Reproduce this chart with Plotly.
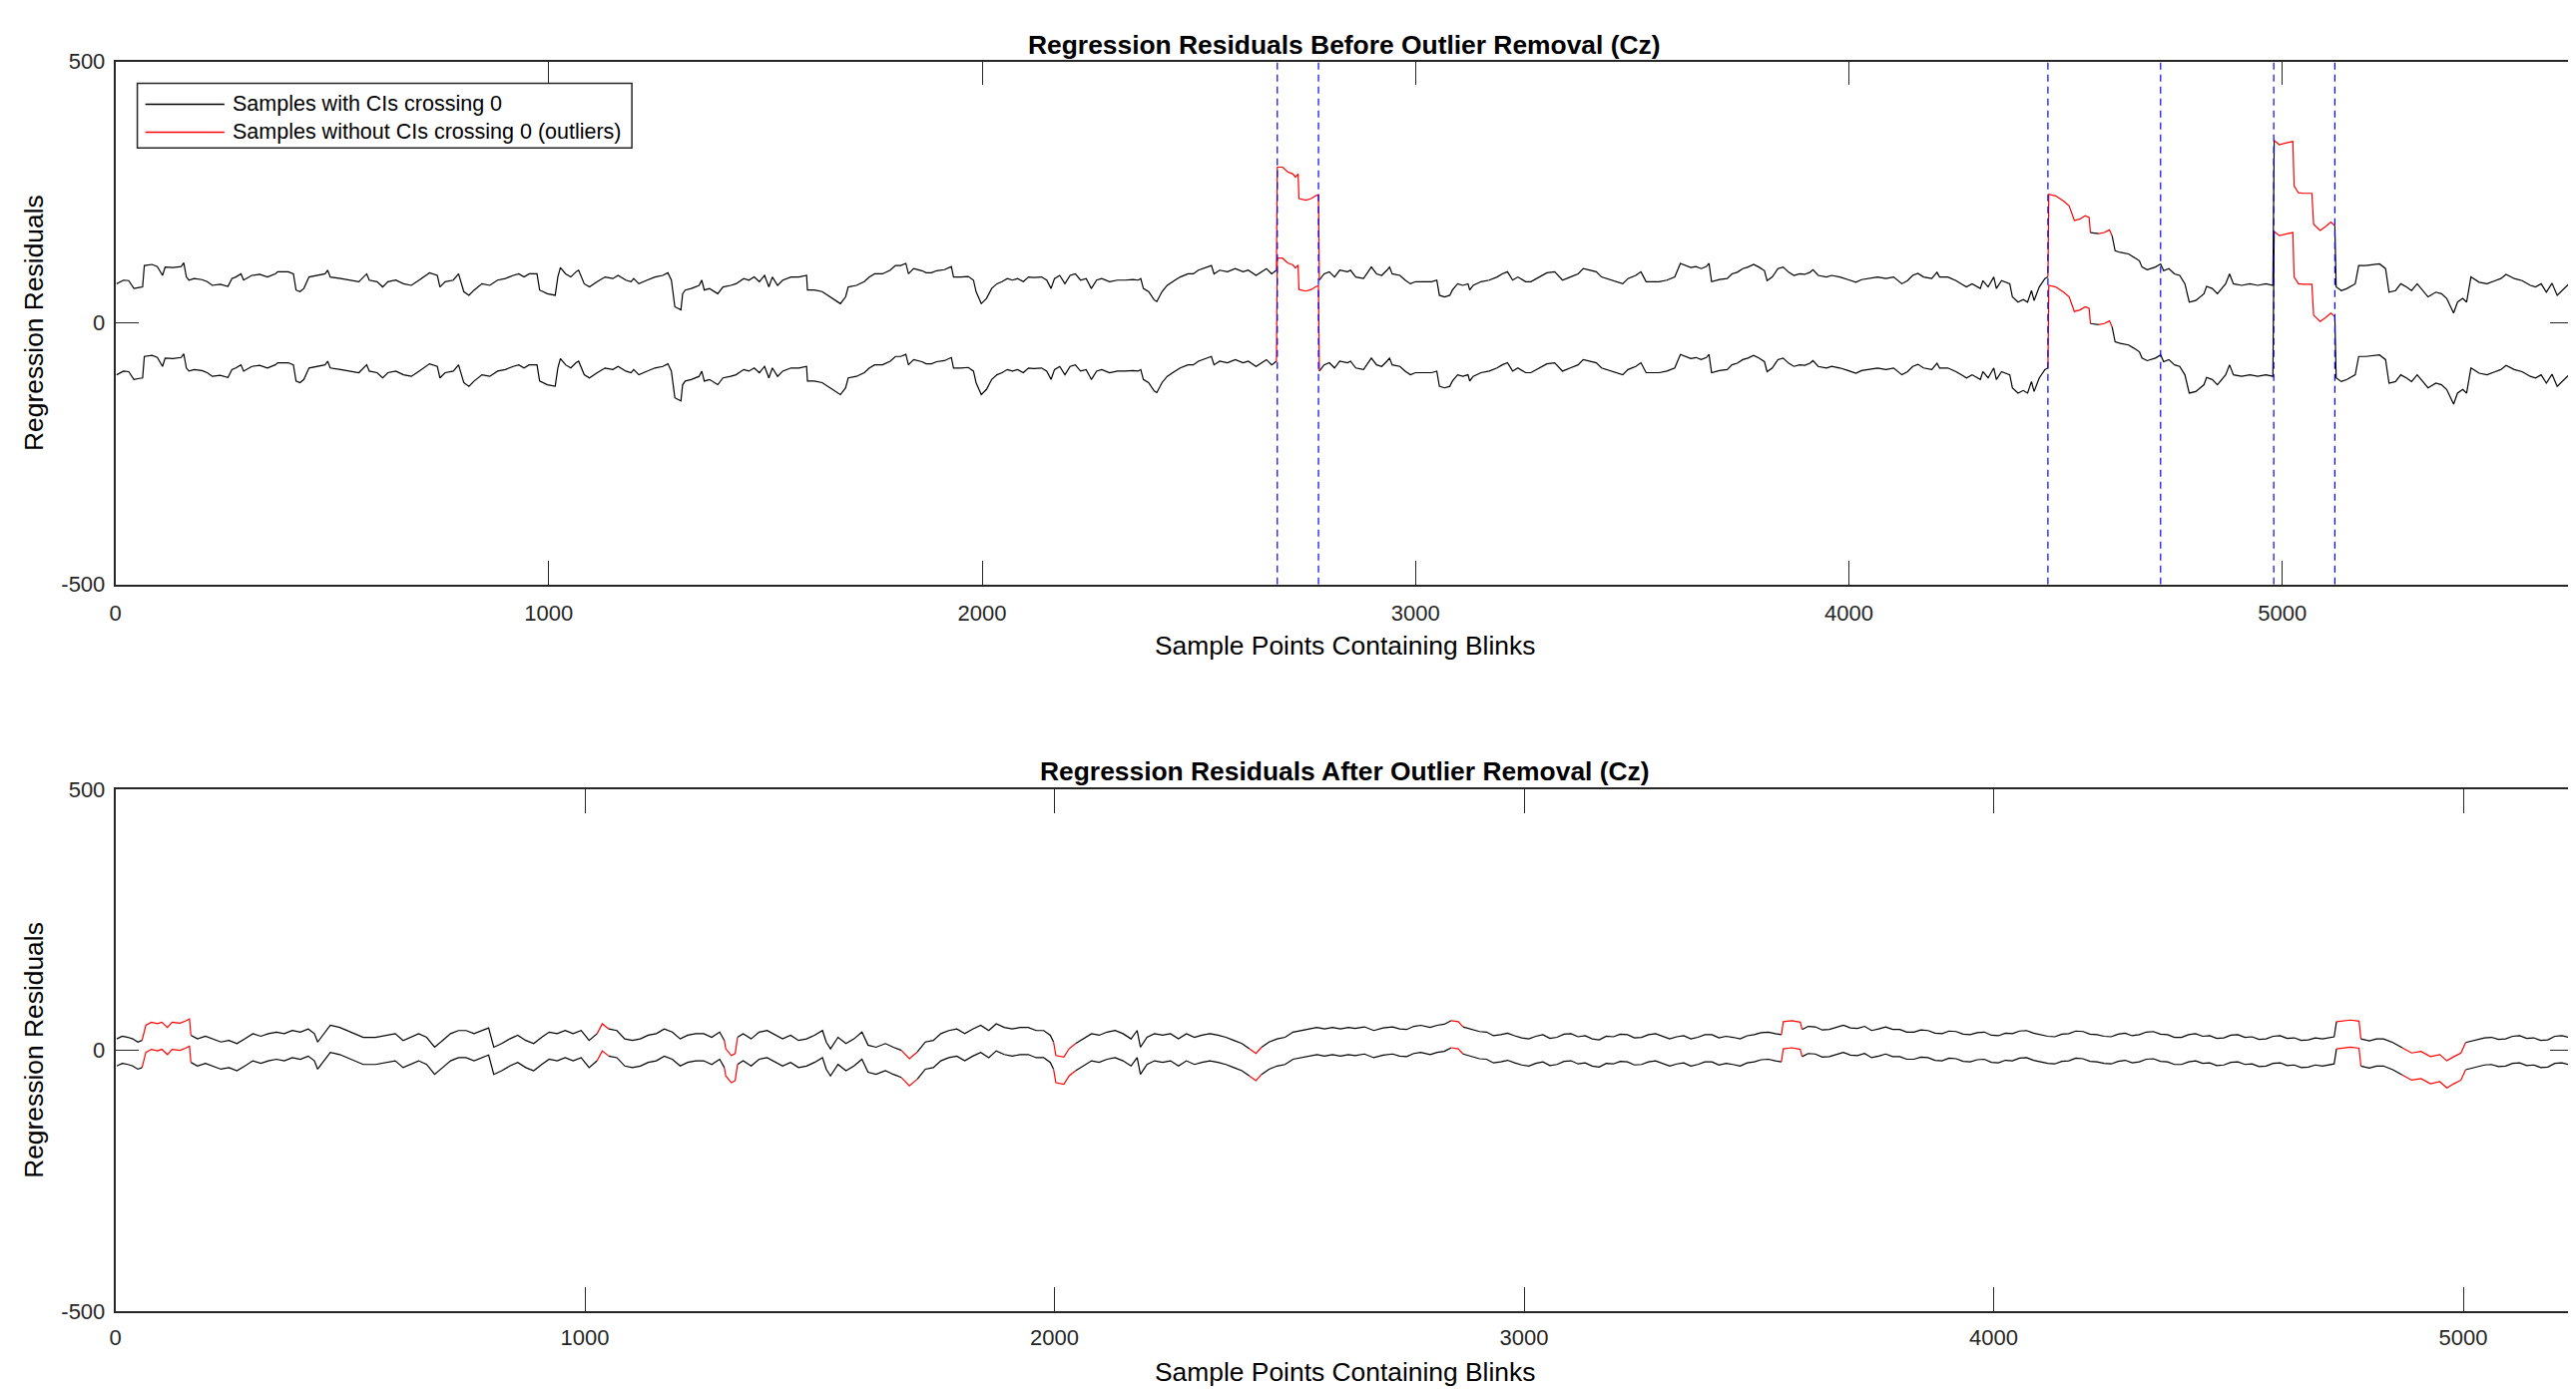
import plotly.graph_objects as go

# ---------------- DATA ----------------
# Top panel: upper confidence bound of regression residuals (sample index, value)
top_x = [3, 19, 31, 43, 55, 63, 67, 85, 97, 109, 115, 133, 152, 158, 164, 170, 182, 200, 212, 224, 242, 260, 269, 278, 290, 296, 315, 333, 351, 369, 375, 399, 411, 417, 426, 435, 447, 466, 484, 490, 496, 520, 544, 562, 580, 586, 604, 617, 629, 647, 665, 683, 701, 711, 725, 743, 749, 761, 780, 792, 798, 804, 816, 828, 846, 864, 882, 900, 918, 931, 943, 955, 973, 979, 997, 1015, 1021, 1027, 1039, 1051, 1063, 1069, 1082, 1094, 1112, 1130, 1148, 1160, 1178, 1190, 1196, 1208, 1227, 1245, 1263, 1275, 1283, 1291, 1305, 1309, 1315, 1329, 1347, 1353, 1359, 1371, 1390, 1402, 1420, 1432, 1450, 1462, 1474, 1486, 1498, 1508, 1516, 1528, 1540, 1559, 1577, 1595, 1597, 1613, 1631, 1649, 1673, 1685, 1691, 1710, 1728, 1740, 1752, 1770, 1788, 1800, 1812, 1824, 1830, 1842, 1861,
         1871, 1883, 1895, 1913, 1929, 1934, 1950, 1968, 1980, 1986, 1998, 2010, 2022, 2034, 2046, 2058, 2070, 2082, 2095, 2107, 2119, 2137, 2149, 2159, 2167, 2179, 2191, 2203, 2215, 2227, 2240, 2252, 2264, 2276, 2294, 2312, 2330, 2348, 2360, 2366, 2372, 2384, 2397, 2403, 2415, 2427, 2445, 2457, 2475, 2487, 2499, 2517, 2529, 2535, 2548, 2566, 2584, 2602, 2614, 2632, 2644, 2656, 2668, 2679, 2681, 2693, 2705, 2717, 2723, 2729, 2731, 2747, 2759, 2771, 2776, 2778, 2789, 2801, 2813, 2825, 2843, 2850, 2862, 2880, 2892, 2898, 2910, 2922, 2934, 2940, 2946, 2964, 2976, 2988, 3000, 3019, 3037, 3049, 3055, 3067, 3079, 3085, 3097, 3109, 3121, 3125, 3133, 3151, 3170, 3188, 3200, 3212, 3224, 3236, 3254, 3266, 3278, 3290, 3303, 3321, 3333, 3339, 3357, 3375, 3387, 3405, 3417, 3429, 3441, 3453, 3466, 3478, 3490, 3508, 3520, 3532, 3544, 3562, 3580, 3598, 3611, 3623, 3635, 3647, 3659, 3671, 3677, 3683, 3701, 3719,
         3730, 3742, 3755, 3767, 3780, 3792, 3805, 3811, 3823, 3836, 3848, 3861, 3873, 3886, 3898, 3910, 3917, 3929, 3948, 3960, 3979, 3998, 4016, 4029, 4047, 4066, 4085, 4103, 4122, 4135, 4147, 4159, 4172, 4191, 4203, 4209, 4228, 4247, 4259, 4271, 4284, 4303, 4309, 4321, 4334, 4340, 4352, 4371, 4377, 4390, 4402, 4412, 4421, 4427, 4439, 4452, 4459, 4461, 4477, 4495, 4508, 4520, 4533, 4545, 4554, 4557, 4576, 4589, 4601, 4607, 4614, 4626, 4645, 4657, 4670, 4676, 4688, 4707, 4719, 4726, 4738, 4751, 4763, 4775, 4785, 4800, 4819, 4825, 4838, 4850, 4869, 4878, 4887, 4906, 4925, 4943, 4962, 4978, 4981, 4993, 5012, 5024, 5027, 5037, 5049, 5068, 5072, 5087, 5099, 5112, 5121, 5124, 5136, 5149, 5168, 5176, 5192, 5211, 5224, 5238, 5246, 5261, 5273, 5286, 5298, 5311, 5323, 5336, 5354, 5367, 5379, 5395, 5404, 5416, 5425, 5435, 5454, 5472, 5491, 5504, 5516, 5535, 5553, 5572, 5584, 5597, 5609, 5622, 5634, 5653, 5665, 5673]
top_upper = [75, 82, 81, 66, 68, 69, 110, 112, 108, 91, 107, 106, 108, 115, 88, 82, 85, 83, 79, 72, 74, 70, 85, 88, 94, 82, 91, 93, 88, 94, 98, 98, 94, 63, 60, 66, 88, 91, 94, 101, 88, 85, 82, 79, 94, 82, 79, 69, 79, 82, 75, 72, 82, 88, 96, 91, 69, 79, 82, 94, 75, 60, 53, 63, 75, 72, 82, 85, 91, 94, 88, 94, 94, 63, 56, 53, 88, 106, 94, 88, 98, 101, 75, 69, 79, 88, 85, 91, 82, 79, 85, 75, 82, 88, 91, 96, 82, 31, 25, 56, 63, 66, 72, 82, 63, 66, 56, 69, 72, 75, 85, 82, 88, 79, 91, 69, 88, 72, 82, 88, 88, 91, 63, 63, 60, 50, 37, 50, 69, 72, 79, 88, 94, 94, 101, 110, 110, 114, 94, 104, 100,
             96, 96, 100, 102, 108, 88, 88, 89, 82, 60, 37, 47, 66, 75, 79, 85, 82, 85, 79, 88, 87, 88, 82, 66, 85, 91, 75, 91, 94, 82, 85, 66, 82, 85, 79, 82, 82, 83, 82, 85, 66, 60, 44, 41, 60, 72, 82, 88, 94, 94, 101, 107, 110, 94, 101, 98, 104, 98, 101, 91, 98, 104, 94, 101, 298, 298, 289, 285, 279, 285, 238, 235, 238, 244, 245, 82, 94, 98, 88, 101, 98, 101, 88, 85, 101, 107, 94, 91, 101, 107, 94, 91, 82, 75, 79, 79, 79, 82, 53, 50, 53, 63, 75, 72, 75, 63, 72, 79, 82, 88, 94, 98, 82, 88, 79, 79, 85, 91, 96, 98, 88, 82, 88, 94, 104, 101, 98, 88, 85, 82, 79, 75, 85, 91, 98, 79, 79, 79, 82, 88, 114, 110, 106, 108, 104, 108, 114, 79, 83, 85,
             94, 97, 104, 107, 112, 107, 100, 81, 88, 104, 107, 97, 91, 94, 93, 97, 102, 91, 88, 91, 88, 83, 78, 83, 85, 88, 85, 88, 75, 81, 91, 95, 88, 85, 97, 88, 88, 81, 75, 69, 75, 66, 81, 69, 88, 66, 81, 75, 50, 40, 45, 40, 62, 43, 69, 85, 88, 246, 243, 233, 224, 196, 199, 205, 202, 173, 171, 173, 178, 167, 138, 135, 132, 126, 119, 107, 102, 107, 113, 100, 104, 94, 91, 75, 40, 43, 56, 70, 66, 56, 75, 94, 75, 72, 75, 72, 75, 72, 349, 341, 345, 347, 262, 249, 248, 248, 189, 177, 184, 193, 186, 69, 62, 66, 75, 110, 110, 112, 113, 104, 59, 62, 75, 69, 62, 75, 62, 50, 59, 56, 47, 19, 40, 47, 40, 88, 78, 75, 81, 85, 93, 85, 81, 72, 69, 75, 59, 76, 53, 69, 78, 69]
top_ci_span = 174          # upper minus lower confidence bound
top_outliers = [(2680, 2777), (4460, 4556), (4582, 4604), (4980, 5122)]
top_blink_bounds = [2681, 2776, 4459, 4719, 4980, 5121]

# Bottom panel
bot_x = [3, 15, 27, 37, 48, 57, 65, 77, 90, 99, 111, 121, 138, 149, 158, 161, 175, 192, 208, 225, 242, 259, 276, 293, 310, 326, 343, 360, 377, 394, 411, 424, 431, 444, 458, 478, 495, 512, 528, 554, 579, 596, 613, 630, 646, 663, 680, 697, 714, 731, 747, 764, 781, 795, 806, 823, 840, 857, 874, 891, 908, 924, 941, 958, 975, 992, 1009, 1026, 1037, 1051, 1068, 1085, 1101, 1118, 1135, 1152, 1169, 1186, 1203, 1219, 1236, 1253, 1270, 1287, 1297, 1300, 1312, 1320, 1325, 1337, 1354, 1371, 1388, 1405, 1421, 1438, 1455, 1472, 1489, 1506, 1514, 1523, 1539, 1556, 1573, 1590, 1603, 1620, 1640, 1657, 1674, 1691, 1708, 1725, 1742, 1758, 1775, 1792, 1809, 1826, 1843, 1860, 1876, 1893, 1910, 1927, 1944, 1961, 1977, 1991, 1998, 2003, 2020, 2031, 2045, 2062, 2079, 2095, 2112, 2129, 2146, 2163, 2176, 2183, 2197, 2213, 2230, 2247, 2264, 2281, 2298, 2314, 2331, 2348, 2365, 2382, 2399, 2415, 2429, 2441, 2457, 2474, 2491, 2508, 2525, 2542, 2559, 2575, 2592, 2609, 2626,
         2640, 2660, 2680, 2700, 2720, 2735, 2750, 2765, 2780, 2800, 2815, 2830, 2845, 2860, 2870, 2890, 2905, 2920, 2935, 2950, 2965, 2980, 2995, 3010, 3025, 3040, 3055, 3070, 3085, 3100, 3115, 3130, 3145, 3160, 3175, 3190, 3205, 3220, 3235, 3250, 3265, 3280, 3295, 3310, 3325, 3340, 3355, 3370, 3385, 3400, 3415, 3430, 3445, 3460, 3475, 3490, 3505, 3520, 3535, 3548, 3552, 3570, 3588, 3592, 3605, 3620, 3635, 3650, 3665, 3680, 3695, 3710, 3725, 3740, 3755, 3770, 3785, 3800, 3815, 3830, 3845, 3860, 3875, 3890, 3905, 3920, 3935, 3950, 3965, 3980, 3995, 4010, 4025, 4040, 4055, 4070, 4085, 4100, 4115, 4130, 4145, 4160, 4175, 4190, 4205, 4220, 4235, 4250, 4265, 4280, 4295, 4310, 4325, 4340, 4355, 4370, 4385, 4400, 4415, 4430, 4445, 4460, 4475, 4490, 4505, 4520, 4535, 4550, 4565, 4580, 4595, 4610, 4625, 4640, 4655, 4670, 4685, 4700, 4715, 4725, 4730, 4745, 4760, 4778, 4782, 4800, 4815, 4830, 4850, 4870, 4890, 4910, 4930, 4950, 4965, 4980, 4995, 5005, 5020, 5030, 5045, 5060, 5075, 5090, 5105, 5120, 5135, 5150, 5165, 5180, 5195, 5210, 5225, 5236]
bot_upper = [22, 27, 25, 22, 16, 19, 48, 54, 51, 54, 44, 54, 52, 56, 60, 29, 22, 27, 22, 16, 19, 13, 22, 32, 27, 32, 35, 32, 38, 35, 41, 32, 16, 32, 48, 44, 38, 32, 25, 25, 29, 32, 19, 25, 32, 25, 6, 19, 32, 38, 38, 32, 38, 43, 6, 13, 22, 29, 19, 13, 25, 35, 32, 38, 32, 38, 19, 32, 51, 41, 38, 22, 19, 22, 29, 32, 41, 35, 22, 29, 32, 32, 25, 35, 19, 3, -10, -6, 25, 32, 22, 35, 38, 29, 22, 29, 19, 22, 29, 38, 16, 3, 25, 13, 22, 35, 10, 6, 13, 6, 0, -16, -3, 16, 19, 32, 38, 41, 32, 41, 48, 38, 51, 44, 41, 44, 44, 38, 38, 29, 16, -10, -13, 3, 13, 22, 32, 29, 35, 38, 32, 22, 38, 6, 25, 32, 29, 32, 22, 32, 25, 29, 32, 29, 25, 19, 13, 3, -6, 6, 16, 22, 25, 35, 38, 41, 44, 41, 44, 41, 44,
             42, 45, 38, 43, 45, 41, 40, 46, 48, 44, 48, 50, 57, 55, 45, 40, 36, 35, 28, 30, 33, 28, 24, 22, 27, 30, 23, 25, 31, 32, 26, 28, 22, 20, 27, 26, 31, 30, 24, 25, 30, 32, 27, 22, 26, 28, 22, 25, 30, 30, 24, 27, 25, 22, 28, 30, 34, 35, 32, 30, 55, 57, 54, 40, 46, 45, 39, 40, 44, 48, 43, 42, 46, 38, 41, 45, 40, 40, 35, 35, 39, 38, 33, 32, 37, 36, 31, 30, 34, 35, 29, 28, 33, 32, 37, 38, 33, 30, 27, 26, 31, 32, 37, 36, 31, 30, 27, 26, 31, 33, 28, 30, 35, 36, 31, 30, 25, 25, 30, 32, 27, 28, 23, 24, 29, 30, 25, 26, 21, 22, 27, 28, 23, 24, 19, 20, 24, 22, 25, 26, 55, 57, 58, 56, 22, 18, 22, 22, 15, 5, -5, -2, -12, -8, -20, -12, -5, 15, 18, 20, 24, 25, 21, 22, 27, 28, 23, 24, 19, 20, 27, 28, 25, 25]
bot_ci_span = 52
bot_outliers = [(58, 160), (1030, 1046), (1298, 1323), (1666, 1716), (1995, 2038), (2408, 2448),
                (2838, 2866), (3550, 3590), (4728, 4780), (4862, 5000)]

x_ticks = [0, 1000, 2000, 3000, 4000, 5000]
x_tick_labels = ["0", "1000", "2000", "3000", "4000", "5000"]
y_ticks = [-500, 0, 500]
y_tick_labels = ["-500", "0", "500"]
top_xmax = 5673
bot_xmax = 5236

TITLE_TOP = "Regression Residuals Before Outlier Removal (Cz)"
TITLE_BOT = "Regression Residuals After Outlier Removal (Cz)"
XLABEL = "Sample Points Containing Blinks"
YLABEL = "Regression Residuals"
LEG_BLACK = "Samples with CIs crossing 0"
LEG_RED = "Samples without CIs crossing 0 (outliers)"


# ---------------- BUILD ----------------
def split_runs(xs, ys, intervals):
    """Return (black_x, black_y, red_x, red_y) with None separators."""
    out = {"k": ([], []), "r": ([], [])}
    n = len(xs)
    cols = []
    for i in range(n - 1):
        mid = (xs[i] + xs[i + 1]) / 2.0
        cols.append("r" if any(a <= mid <= b for a, b in intervals) else "k")
    i = 0
    while i < n - 1:
        c = cols[i]
        j = i
        while j + 1 < n - 1 and cols[j + 1] == c:
            j += 1
        bx, by = out[c]
        bx.extend(xs[i:j + 2]); by.extend(ys[i:j + 2])
        bx.append(None); by.append(None)
        i = j + 1
    return out["k"][0], out["k"][1], out["r"][0], out["r"][1]


def both_bounds(xs, upper, span, intervals):
    lower = [u - span for u in upper]
    kx1, ky1, rx1, ry1 = split_runs(xs, upper, intervals)
    kx2, ky2, rx2, ry2 = split_runs(xs, lower, intervals)
    return kx1 + kx2, ky1 + ky2, rx1 + rx2, ry1 + ry2


FONT = "Liberation Sans, Arial, Helvetica, sans-serif"
AXC = "#262626"
LW = 1.2
W, H = 2581, 1396

# map target screen pixel -> paper fraction (compensates the page offset seen in rendering)
OX, SX = 13.8, 0.9946
OY, SY = 18.2, 0.9856


def fx(px):
    return ((px - OX) / SX) / W


def fy(py):
    return 1 - ((py - OY) / SY) / H


L, R = 115, 2571
TOP = (60, 586)
BOT = (792, 1317)

fig = go.Figure()

kx, ky, rx, ry = both_bounds(top_x, top_upper, top_ci_span, top_outliers)
fig.add_trace(go.Scatter(x=kx, y=ky, mode="lines", line=dict(color="black", width=LW),
                         name=LEG_BLACK, xaxis="x", yaxis="y", showlegend=False))
fig.add_trace(go.Scatter(x=rx, y=ry, mode="lines", line=dict(color="#ff0000", width=LW),
                         name=LEG_RED, xaxis="x", yaxis="y", showlegend=False))
bx, by = [], []
for b in top_blink_bounds:
    bx += [b, b, None]
    by += [-500, 500, None]
fig.add_trace(go.Scatter(x=bx, y=by, mode="lines", line=dict(color="#0000ff", width=1.2, dash="7px,5px"),
                         xaxis="x", yaxis="y", showlegend=False, hoverinfo="skip"))

kx, ky, rx, ry = both_bounds(bot_x, bot_upper, bot_ci_span, bot_outliers)
fig.add_trace(go.Scatter(x=kx, y=ky, mode="lines", line=dict(color="black", width=LW),
                         xaxis="x2", yaxis="y2", showlegend=False))
fig.add_trace(go.Scatter(x=rx, y=ry, mode="lines", line=dict(color="#ff0000", width=LW),
                         xaxis="x2", yaxis="y2", showlegend=False))

ax_common = dict(showgrid=False, zeroline=False, showline=True, linecolor=AXC, linewidth=1.5,
                 mirror="ticks", ticks="inside", ticklen=24, tickwidth=1, tickcolor=AXC,
                 tickfont=dict(family=FONT, size=22, color=AXC))

fig.update_layout(
    width=W, height=H, margin=dict(l=0, r=0, t=0, b=0),
    paper_bgcolor="white", plot_bgcolor="white", showlegend=False,
    xaxis=dict(domain=[fx(L), fx(R)], range=[0, top_xmax], tickvals=x_ticks, ticktext=x_tick_labels,
               anchor="y", ticklabelstandoff=8, **ax_common),
    yaxis=dict(domain=[fy(TOP[1]), fy(TOP[0])], range=[-500, 500], tickvals=y_ticks, ticktext=y_tick_labels,
               anchor="x", ticklabelstandoff=4, **ax_common),
    xaxis2=dict(domain=[fx(L), fx(R)], range=[0, bot_xmax], tickvals=x_ticks, ticktext=x_tick_labels,
                anchor="y2", ticklabelstandoff=6, **ax_common),
    yaxis2=dict(domain=[fy(BOT[1]), fy(BOT[0])], range=[-500, 500], tickvals=y_ticks, ticktext=y_tick_labels,
                anchor="x2", ticklabelstandoff=4, **ax_common),
)

# custom legend (MATLAB style, long line samples)
LEG_BOX = (137, 82, 631, 147)
LEG_ROWS = [(103, "black", LEG_BLACK), (131, "#ff0000", LEG_RED)]
shapes = [dict(type="rect", xref="paper", yref="paper",
               x0=fx(LEG_BOX[0]), x1=fx(LEG_BOX[2]), y0=fy(LEG_BOX[3]), y1=fy(LEG_BOX[1]),
               line=dict(color=AXC, width=1.5), fillcolor="white", layer="above")]
ann = []
for ry_, col, txt in LEG_ROWS:
    shapes.append(dict(type="line", xref="paper", yref="paper", x0=fx(145), x1=fx(224),
                       y0=fy(ry_), y1=fy(ry_), line=dict(color=col, width=1.5), layer="above"))
    ann.append(dict(text=txt, x=fx(230), y=fy(ry_), xanchor="left", font=dict(size=21.5)))

cx = fx((L + R) / 2)
ann += [
    dict(text="<b>" + TITLE_TOP + "</b>", x=cx, y=fy(43), font=dict(size=26.4)),
    dict(text="<b>" + TITLE_BOT + "</b>", x=cx, y=fy(774), font=dict(size=26.4)),
    dict(text=XLABEL, x=cx, y=fy(647), font=dict(size=26.4)),
    dict(text=XLABEL, x=cx, y=fy(1378), font=dict(size=26.4)),
    dict(text=YLABEL, x=fx(33), y=fy(sum(TOP) / 2), textangle=-90, font=dict(size=26.4)),
    dict(text=YLABEL, x=fx(33), y=fy(sum(BOT) / 2), textangle=-90, font=dict(size=26.4)),
]
for a in ann:
    a.setdefault("xanchor", "center")
    a.update(xref="paper", yref="paper", showarrow=False, yanchor="middle")
    a["font"].update(family=FONT, color="black")
fig.update_layout(annotations=ann, shapes=shapes)

fig.write_html("out.html")
